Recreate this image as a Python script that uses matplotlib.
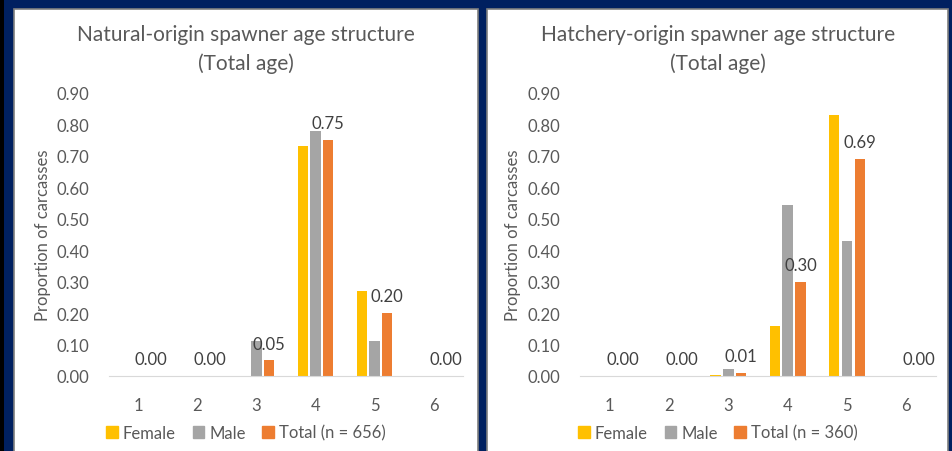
import numpy as np
import matplotlib.pyplot as plt
from matplotlib.patches import Rectangle, Patch

plt.rcParams['font.family'] = ['Lato', 'DejaVu Sans']

# data
ages = [1, 2, 3, 4, 5, 6]
nat_female = [0.00, 0.00, 0.00, 0.73, 0.27, 0.00]
nat_male = [0.00, 0.00, 0.11, 0.78, 0.11, 0.00]
nat_total = [0.00, 0.00, 0.05, 0.75, 0.20, 0.00]
hat_female = [0.00, 0.00, 0.003, 0.16, 0.83, 0.00]
hat_male = [0.00, 0.00, 0.023, 0.545, 0.43, 0.00]
hat_total = [0.00, 0.00, 0.01, 0.30, 0.69, 0.00]
yticks = [0.0, 0.1, 0.2, 0.3, 0.4, 0.5, 0.6, 0.7, 0.8, 0.9]

c_female = '#FFC000'
c_male = '#A5A5A5'
c_total = '#ED7D31'
txt = '#595959'

W, H = 953, 452
fig = plt.figure(figsize=(W / 100, H / 100), dpi=100)
fig.patch.set_facecolor('#002060')

# dark strip on the far left + white panels
fig.patches.append(Rectangle((0, 0), 4 / W, 1, transform=fig.transFigure,
                             facecolor='black', edgecolor='none', zorder=-2))
for x0, x1 in [(14, 478), (487, 948)]:
    fig.patches.append(Rectangle((x0 / W, -0.05), (x1 - x0) / W, 1.05 - 10 / H,
                                 transform=fig.transFigure, facecolor='white',
                                 edgecolor='#7F7F7F', lw=1.2, zorder=-2))


def draw(ax, female, male, total, title, n, cx):
    x = np.arange(len(ages))
    w = 0.175
    step = 0.215
    ax.bar(x - step, female, w, color=c_female)
    ax.bar(x, male, w, color=c_male)
    ax.bar(x + step, total, w, color=c_total)
    for xi, v in zip(x, total):
        ax.annotate(f'{v:.2f}', (xi + step, v), xytext=(0, 12),
                    textcoords='offset points', ha='center', va='center',
                    fontsize=12, color='#404040')
    ax.set_xlim(-0.5, len(ages) - 0.5)
    ax.set_ylim(0, 0.9)
    ax.set_yticks(yticks)
    ax.set_yticklabels([f'{t:.2f}' for t in yticks])
    ax.set_xticks(x)
    ax.set_xticklabels([str(a) for a in ages])
    ax.tick_params(axis='both', length=0, labelsize=12, labelcolor=txt)
    ax.tick_params(axis='x', pad=15)
    ax.tick_params(axis='y', pad=14)
    for s in ['top', 'right', 'left']:
        ax.spines[s].set_visible(False)
    ax.spines['bottom'].set_color('#D9D9D9')
    ax.set_facecolor('none')
    ax.set_ylabel('Proportion of carcasses', fontsize=12, color=txt)
    ax.yaxis.set_label_coords(-0.165, 0.5)
    fig.text(cx / W, 1 - 49.5 / H, title, ha='center', va='center',
             fontsize=15, color=txt, linespacing=1.45)
    pos = ax.get_position()
    handles = [Patch(color=c_female, label='Female'),
               Patch(color=c_male, label='Male'),
               Patch(color=c_total, label=f'Total (n = {n})')]
    ax.legend(handles=handles, loc='center', ncol=3, frameon=False,
              bbox_to_anchor=((cx / W - pos.x0) / pos.width, -0.2),
              fontsize=12, labelcolor=txt, handlelength=0.7, handleheight=0.7,
              handletextpad=0.3, columnspacing=1.0)


ax1 = fig.add_axes([109 / W, 75 / H, 354 / W, 283 / H])
ax2 = fig.add_axes([580 / W, 75 / H, 356 / W, 283 / H])
draw(ax1, nat_female, nat_male, nat_total,
     'Natural-origin spawner age structure\n(Total age)', 656, 246)
draw(ax2, hat_female, hat_male, hat_total,
     'Hatchery-origin spawner age structure\n(Total age)', 360, 718)

fig.savefig('out.png', dpi=100, facecolor=fig.get_facecolor())
